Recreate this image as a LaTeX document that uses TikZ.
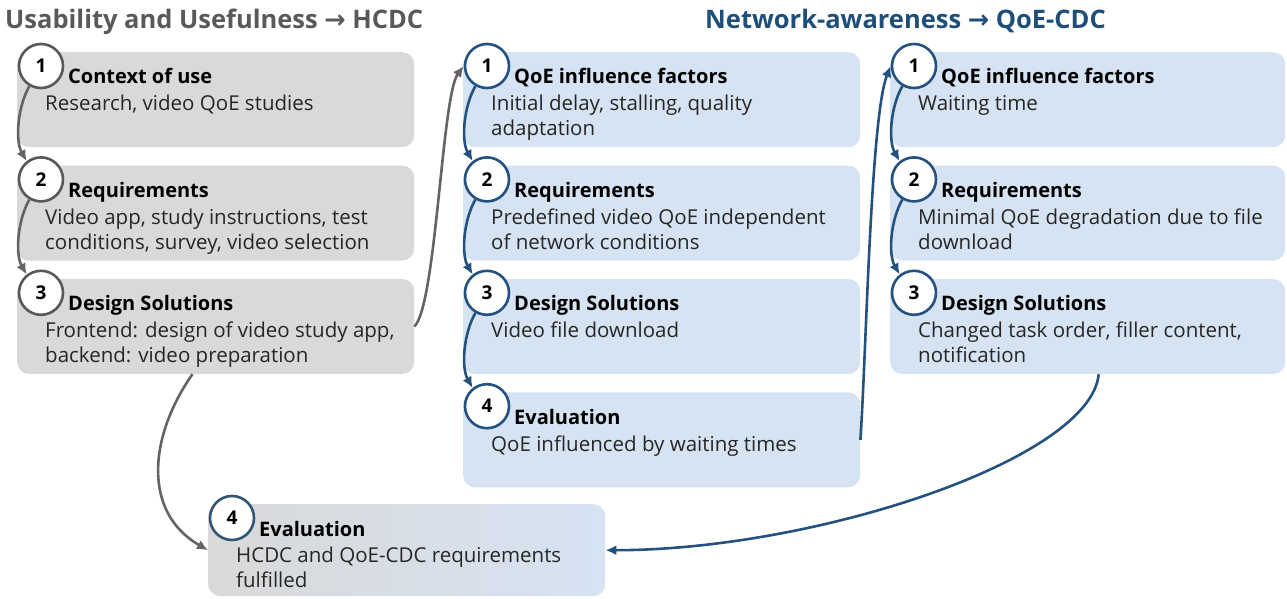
\documentclass[tikz,border=0pt]{standalone}
\usepackage{fontspec}
\setmainfont{Open Sans}
\newfontfamily\arrowfont{DejaVu Sans}
\usetikzlibrary{arrows.meta}
\usetikzlibrary{positioning}

\definecolor{boxgray}{RGB}{217,217,217}
\definecolor{boxblue}{RGB}{214,227,243}
\definecolor{linegray}{RGB}{100,100,100}
\definecolor{lineblue}{RGB}{36,82,128}
\definecolor{titlegray}{RGB}{89,89,89}
\definecolor{titleblue}{RGB}{31,78,121}
\definecolor{bodytext}{RGB}{38,38,38}

\tikzset{
  stepbox/.style={rounded corners=12pt, minimum width=397pt, minimum height=95pt, inner sep=0pt},
  numcircle/.style={circle, draw, line width=2.6pt, fill=white, minimum size=44pt, inner sep=0pt,
    font=\fontsize{19}{19}\selectfont\bfseries},
  headtext/.style={anchor=base west, inner sep=0pt, font=\fontsize{20}{25}\selectfont\bfseries},
  bodytxt/.style={anchor=north west, inner sep=0pt, align=left, text=bodytext,
    font=\fontsize{20.5}{25}\selectfont},
  flowgray/.style={draw=linegray, line width=2.6pt, -{Latex[length=11pt,width=10pt]}},
  flowblue/.style={draw=lineblue, line width=2.6pt, -{Latex[length=11pt,width=10pt]}},
  bigtitle/.style={anchor=base west, inner sep=0pt, font=\fontsize{25.5}{25.5}\selectfont\bfseries}
}

\begin{document}
\begin{tikzpicture}[x=1pt,y=1pt]
\useasboundingbox (0,0) rectangle (1287,598);

% Titles
\node[bigtitle, text=titlegray] (hcdc) at (5,569) {Usability and Usefulness {\arrowfont\bfseries →} HCDC};
\node[bigtitle, text=titleblue] (qoecdc) at (705,569) {Network-awareness {\arrowfont\bfseries →} QoE-CDC};

% Left column (HCDC)
\node[stepbox, fill=boxgray, anchor=north west] (l1) at (17,546) {};
\node[stepbox, fill=boxgray, below=18pt of l1.south west, anchor=north west] (l2) {};
\node[stepbox, fill=boxgray, below=18pt of l2.south west, anchor=north west] (l3) {};

% Middle column (QoE-CDC, video)
\node[stepbox, fill=boxblue, anchor=north west] (m1) at (463,546) {};
\node[stepbox, fill=boxblue, below=18pt of m1.south west, anchor=north west] (m2) {};
\node[stepbox, fill=boxblue, below=18pt of m2.south west, anchor=north west] (m3) {};
\node[stepbox, fill=boxblue, below=18pt of m3.south west, anchor=north west] (m4) {};

% Right column (QoE-CDC, waiting time)
\node[stepbox, fill=boxblue, anchor=north west, minimum width=395pt] (r1) at (890,546) {};
\node[stepbox, fill=boxblue, below=18pt of r1.south west, anchor=north west, minimum width=395pt] (r2) {};
\node[stepbox, fill=boxblue, below=18pt of r2.south west, anchor=north west, minimum width=395pt] (r3) {};

% Final evaluation
\node[stepbox, left color=boxgray, right color=boxblue, anchor=north west, minimum height=92pt] (ev) at (208,94) {};

% Texts, left
\node[headtext] (l1h) at ([shift={(51,-32)}]l1.north west) {Context of use};
\node[bodytxt] (l1b) at ([shift={(28,-43)}]l1.north west) {Research, video QoE studies};
\node[headtext] (l2h) at ([shift={(51,-32)}]l2.north west) {Requirements};
\node[bodytxt] (l2b) at ([shift={(28,-43)}]l2.north west) {Video app, study instructions, test\\conditions, survey, video selection};
\node[headtext] (l3h) at ([shift={(51,-32)}]l3.north west) {Design Solutions};
\node[bodytxt] (l3b) at ([shift={(28,-43)}]l3.north west) {Frontend: design of video study app,\\backend: video preparation};

% Texts, middle
\node[headtext] (m1h) at ([shift={(51,-32)}]m1.north west) {QoE influence factors};
\node[bodytxt] (m1b) at ([shift={(28,-43)}]m1.north west) {Initial delay, stalling, quality\\adaptation};
\node[headtext] (m2h) at ([shift={(51,-32)}]m2.north west) {Requirements};
\node[bodytxt] (m2b) at ([shift={(28,-43)}]m2.north west) {Predefined video QoE independent\\of network conditions};
\node[headtext] (m3h) at ([shift={(51,-32)}]m3.north west) {Design Solutions};
\node[bodytxt] (m3b) at ([shift={(28,-43)}]m3.north west) {Video file download};
\node[headtext] (m4h) at ([shift={(51,-32)}]m4.north west) {Evaluation};
\node[bodytxt] (m4b) at ([shift={(28,-43)}]m4.north west) {QoE influenced by waiting times};

% Texts, right
\node[headtext] (r1h) at ([shift={(51,-32)}]r1.north west) {QoE influence factors};
\node[bodytxt] (r1b) at ([shift={(28,-43)}]r1.north west) {Waiting time};
\node[headtext] (r2h) at ([shift={(51,-32)}]r2.north west) {Requirements};
\node[bodytxt] (r2b) at ([shift={(28,-43)}]r2.north west) {Minimal QoE degradation due to file\\download};
\node[headtext] (r3h) at ([shift={(51,-32)}]r3.north west) {Design Solutions};
\node[bodytxt] (r3b) at ([shift={(28,-43)}]r3.north west) {Changed task order, filler content,\\notification};

% Texts, evaluation
\node[headtext] (evh) at ([shift={(51,-32)}]ev.north west) {Evaluation};
\node[bodytxt] (evb) at ([shift={(28,-43)}]ev.north west) {HCDC and QoE-CDC requirements\\fulfilled};

% Number circles
\node[numcircle, draw=titlegray] (l1c) at ([shift={(24,-14)}]l1.north west) {1};
\node[numcircle, draw=titlegray] (l2c) at ([shift={(24,-14)}]l2.north west) {2};
\node[numcircle, draw=titlegray] (l3c) at ([shift={(24,-14)}]l3.north west) {3};
\node[numcircle, draw=lineblue] (m1c) at ([shift={(24,-14)}]m1.north west) {1};
\node[numcircle, draw=lineblue] (m2c) at ([shift={(24,-14)}]m2.north west) {2};
\node[numcircle, draw=lineblue] (m3c) at ([shift={(24,-14)}]m3.north west) {3};
\node[numcircle, draw=lineblue] (m4c) at ([shift={(24,-14)}]m4.north west) {4};
\node[numcircle, draw=lineblue] (r1c) at ([shift={(24,-14)}]r1.north west) {1};
\node[numcircle, draw=lineblue] (r2c) at ([shift={(24,-14)}]r2.north west) {2};
\node[numcircle, draw=lineblue] (r3c) at ([shift={(24,-14)}]r3.north west) {3};
\node[numcircle, draw=lineblue!70!titlegray] (evc) at ([shift={(24,-14)}]ev.north west) {4};

% Step arrows
\draw[flowgray] (l1c.240) to[out=240,in=120,looseness=0.8] (l2c.128);
\draw[flowgray] (l2c.240) to[out=240,in=120,looseness=0.8] (l3c.128);
\draw[flowblue] (m1c.240) to[out=240,in=120,looseness=0.8] (m2c.128);
\draw[flowblue] (m2c.240) to[out=240,in=120,looseness=0.8] (m3c.128);
\draw[flowblue] (m3c.240) to[out=240,in=120,looseness=0.8] (m4c.128);
\draw[flowblue] (r1c.240) to[out=240,in=120,looseness=0.8] (r2c.128);
\draw[flowblue] (r2c.240) to[out=240,in=120,looseness=0.8] (r3c.128);

% Column transitions
\draw[flowgray] (l3.east) .. controls +(22,22) and +(-22,-30) .. (m1c.west);
\draw[flowblue] (m4.east) .. controls +(6,90) and +(-20,-50) .. (r1c.west);
\draw[flowgray] (l3.244) to[out=235,in=150,looseness=1.1] (ev.west);
\draw[flowblue] (r3.283) .. controls +(-8,-85) and +(210,0) .. (ev.east);

\end{tikzpicture}
\end{document}
